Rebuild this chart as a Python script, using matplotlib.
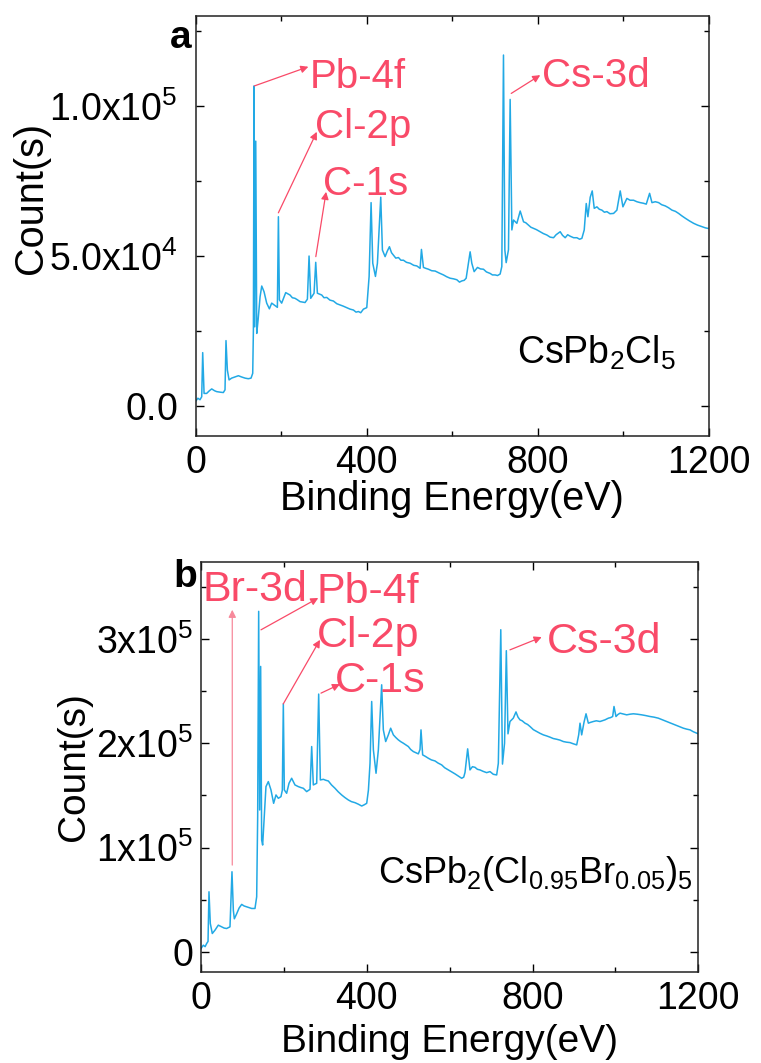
import numpy as np
import matplotlib
matplotlib.use("Agg")
import matplotlib.pyplot as plt

plt.rcParams['font.family'] = ['Liberation Sans', 'DejaVu Sans']
plt.rcParams['mathtext.fontset'] = 'custom'
plt.rcParams['mathtext.rm'] = 'Liberation Sans'
plt.rcParams['mathtext.it'] = 'Liberation Sans'
plt.rcParams['mathtext.default'] = 'regular'

# panel a: CsPb2Cl5 survey (energy in eV, counts in thousands)
a_energy = [0, 5, 10, 14, 16.3, 19.5, 25.5, 32, 37.4, 44, 49, 58, 64.6, 68.5, 70.8, 74, 78, 84, 92, 99.8,
            107, 115.4, 123, 129.4, 133.3, 134.9, 136.4, 138, 140.4, 142.7, 145.9, 150.5, 154.4, 159.8, 166,
            172.3, 177.7, 185.5, 191, 193.4, 195.7, 201, 210.5, 220.6, 226, 232.3, 238, 244, 255.7, 261.2,
            265.1, 269, 276.8, 280.7, 284.6, 294.8, 300, 306.5, 314, 322.1, 330, 337.7, 345, 353.3, 361,
            368.9, 375, 380.6, 386, 392.3, 400.1, 405.6, 410.2, 414.1, 420.4, 425, 432.8, 436.7, 443, 448,
            453.1, 458, 462.5, 468, 474.2, 480, 485.9, 493, 501.5, 510, 517.1, 524.9, 528, 532.7, 538,
            544.4, 552, 560, 570, 579.5, 587, 595.1, 603, 610.7, 617, 622.4, 628, 632.6, 638, 641.9, 645.8,
            651.3, 659.1, 666, 673.1, 680, 688.7, 694, 700.4, 706, 712.1, 716, 719.9, 723.1, 726.2, 731.6,
            735.5, 739.5, 743.4, 751.2, 759, 766.8, 772, 778.5, 784, 790.2, 797, 805.8, 813, 821.4, 829,
            837, 843, 852.6, 858, 864.3, 870, 876, 884, 891.6, 898, 903.3, 908.8, 913.5, 917.4, 922.8,
            927.5, 932.2, 938.4, 944, 950.1, 956, 961.8, 969, 977.4, 985.2, 993, 999.3, 1008.6, 1016,
            1024.2, 1032, 1039.8, 1047, 1053.9, 1061.7, 1067.2, 1075, 1082.8, 1090, 1098.4, 1106, 1114,
            1122, 1129.6, 1137, 1145.2, 1155, 1164.7, 1174, 1184.2, 1192, 1198.3]
a_counts = [1.5, 2.5, 2.0, 3.0, 17.7, 4.1, 4.1, 5.0, 5.6, 5.0, 4.7, 4.5, 4.4, 5.3, 21.7, 11.9, 8.6, 9.2, 9.6, 10.0,
            9.6, 9.2, 9.0, 9.2, 10.8, 25.2, 106.6, 26.3, 88.2, 24.1, 28.6, 36.3, 39.9, 38.0, 34.2,
            32.3, 34.2, 33.4, 32.8, 63.0, 35.3, 34.2, 37.7, 36.9, 36.0, 35.8, 35.3, 34.7, 34.4, 35.5,
            49.9, 35.8, 37.5, 47.8, 37.5, 36.9, 36.0, 36.1, 35.2, 34.9, 34.0, 33.6, 33.2, 32.7, 32.2,
            31.9, 31.2, 31.4, 31.0, 32.2, 32.7, 43.1, 67.7, 47.5, 43.1, 47.5, 69.5, 51.9, 49.7, 51.5,
            53.0, 51.0, 50.2, 49.2, 49.4, 48.5, 48.5, 47.8, 47.5, 46.8, 46.6, 45.8, 52.1, 46.1, 45.8,
            45.5, 45.0, 44.9, 44.2, 43.6, 43.0, 42.5, 42.3, 42.0, 41.2, 41.6, 41.8, 42.5, 47.5, 51.3, 47.5,
            44.7, 46.1, 45.6, 45.5, 44.6, 44.1, 43.6, 43.6, 43.4, 43.9, 46.4, 116.9, 51.9, 47.7, 52.0,
            102.1, 58.6, 61.9, 60.8, 64.9, 61.3, 61.0, 60.2, 59.5, 59.1, 58.7, 58.0, 57.4, 56.9, 56.2,
            56.0, 57.0, 58.0, 56.8, 56.0, 57.0, 56.5, 56.0, 56.0, 55.5, 55.8, 58.6, 67.4, 63.0, 69.5,
            71.6, 65.8, 66.3, 65.5, 65.2, 64.5, 64.7, 64.0, 64.1, 65.2, 71.6, 66.3, 69.1, 68.5,
            68.5, 68.0, 67.7, 67.5, 67.2, 70.8, 67.7, 68.0, 67.7, 67.0, 66.6, 66.0, 65.2,
            64.8, 64.1, 63.3, 62.5, 61.6, 60.8, 60.2, 59.7, 59.3, 59.1]

# panel b: CsPb2(Cl0.95Br0.05)5 survey
b_energy = [0, 5.6, 10, 13.7, 17, 19.3, 22.5, 27.3, 33.8, 41.8, 49.9, 56, 61.9, 70, 74.8, 78.1, 80.5, 86.1, 92,
            98.2, 104, 110.3, 116, 122.3, 130.3, 134.4, 136.8, 139.2, 141.6, 144.0, 146.4, 148.8, 152.8,
            156.8, 162.5, 168.9, 175.3, 181, 186.6, 193, 196.3, 198.7, 201.1, 206.7, 212.4, 218.8, 226.8,
            234.9, 241, 247, 255, 263.1, 267.1, 271.1, 279.2, 284.0, 288, 295.3, 301, 307.3, 315, 323.4,
            331, 339.5, 347, 355.6, 363, 371.7, 380, 387.8, 394, 399.9, 404, 407.9, 411.9, 416, 422.4,
            428, 436, 440, 445.7, 452.1, 457.7, 464.2, 470, 476.2, 482, 488.3, 494, 500.4, 506, 512.4,
            518, 524.5, 528.5, 530.9, 534.9, 541, 548.6, 556, 564.7, 572, 580.8, 588, 596.9, 604, 613,
            621, 629.1, 634, 637.1, 643.5, 649.1, 655, 661.2, 667, 673.2, 681, 689.3, 697.4, 705.4, 713.5,
            717.5, 723.4, 727.5, 732.5, 736.8, 740.8, 745.6, 749.7, 753.6, 760.1, 765, 769.8, 775, 781.9,
            788, 794, 802, 810, 818, 826.1, 834, 842.2, 850, 858.3, 866, 874.4, 882, 890.5, 898, 906.6,
            911.4, 914.6, 918.6, 924.2, 929.1, 934.7, 940, 946.7, 954, 962.8, 968, 974.9, 982.9, 988,
            993.4, 996.6, 1001.4, 1006, 1011.1, 1019, 1027.2, 1035, 1043.3, 1053, 1063.4, 1073, 1083.5,
            1093, 1103.6, 1113, 1123.7, 1133, 1143.8, 1154, 1164, 1172, 1180, 1188, 1196.1, 1200]
b_counts = [3.2, 6.4, 5.0, 8.0, 10.0, 57.6, 27.2, 17.6, 20.8, 25.6, 24.0, 22.8, 22.4, 24.0, 76.8, 39.7, 31.7, 36.5, 42.0,
            45.5, 44.0, 43.2, 42.5, 41.6, 41.6, 52.8, 129.6, 326.4, 136.0, 273.6, 107.2, 102.4, 129.6,
            158.4, 163.2, 155.2, 142.4, 150.4, 147.2, 148.8, 155.0, 237.8, 155.2, 152.0, 161.6, 166.4, 160.0,
            158.4, 157.5, 156.8, 153.6, 155.8, 196.8, 160.0, 161.6, 247.1, 164.8, 165.4, 164.5, 163.8, 160.0, 156.8,
            153.5, 150.4, 148.0, 145.6, 144.0, 143.0, 141.5, 139.8, 141.0, 142.4, 155.0, 180.8, 240.0, 193.6, 171.2,
            193.6, 256.0, 212.8, 201.6, 208.0, 214.4, 208.0, 205.5, 203.2, 201.5, 200.0, 198.5, 196.8, 194.0, 192.0,
            191.0, 189.8, 194.0, 212.8, 188.8, 187.5, 185.6, 184.0, 183.0, 181.0, 179.2, 176.5, 174.4, 172.8, 170.6,
            168.5, 166.4, 167.5, 172.0, 194.6, 174.4, 177.5, 176.9, 175.0, 174.4, 173.0, 171.8, 172.8, 170.2, 169.6,
            180.8, 308.8, 180.0, 200.0, 288.7, 209.0, 220.8, 222.4, 224.0, 230.0, 225.0, 222.4, 221.5, 219.2,
            218.0, 216.0, 213.0, 211.2, 209.5, 208.0, 207.0, 205.8, 204.5, 203.8, 203.0, 201.6, 201.0, 200.6, 199.5, 198.4,
            208.0, 219.2, 208.0, 220.0, 228.2, 219.2, 220.0, 220.8, 221.5, 220.8, 221.5, 222.4, 224.0, 224.5,
            225.6, 235.2, 225.6, 227.5, 228.8, 228.0, 227.2, 227.8, 228.2, 227.8, 227.2, 226.5, 225.6,
            225.0, 224.0, 222.5, 220.8, 219.2, 217.6, 216.0, 214.4, 213.5, 212.8, 211.0, 209.6, 209.0]

x_ticks = [0, 400, 800, 1200]
a_yticks = [0, 50000, 100000]
a_yticklabels = [r'$0.0$', r'$5.0x10^4$', r'$1.0x10^5$']
b_yticks = [0, 100000, 200000, 300000]
b_yticklabels = [r'$0$', r'$1x10^5$', r'$2x10^5$', r'$3x10^5$']

# peak labels: (text, text x, text y, arrow tail x, tail y, arrow head x, head y)
a_peaks = [('Pb-4f', 267.6, 105.9, 137.2, 106.6, 263.5, 113.0),
           ('Cl-2p', 279.2, 89.1, 193.3, 64.3, 283.2, 91.3),
           ('C-1s', 297.3, 70.2, 280.9, 49.7, 305.0, 71.3),
           ('Cs-3d', 809.9, 106.3, 738.0, 104.1, 805.9, 110.2)]
b_peaks = [('Br-3d', 4.8, 335.9, 75.5, 83.2, 75.5, 327.9),
           ('Pb-4f', 279.2, 334.4, 144.8, 308.7, 283.0, 339.2),
           ('Cl-2p', 279.2, 292.7, 198.6, 237.7, 287.2, 299.1),
           ('C-1s', 323.3, 249.5, 289.6, 248.0, 335.4, 256.6),
           ('Cs-3d', 834.2, 286.4, 745.6, 289.5, 822.1, 301.7)]

blue = '#22A9E5'
red = '#F94A68'

fig = plt.figure(figsize=(7.61, 10.63), dpi=100)
ax1 = fig.add_axes([0.2572, 0.5901, 0.6741, 0.3951])
ax2 = fig.add_axes([0.2641, 0.0859, 0.6535, 0.3857])


def style_axis(ax, yticks, ylabels, ylim, ypad, fs):
    ax.set_xlim(0, 1200)
    ax.set_ylim(*ylim)
    ax.set_xticks(x_ticks)
    ax.set_xticks([200, 600, 1000], minor=True)
    ax.set_yticks(yticks)
    ax.set_yticklabels(ylabels)
    step = yticks[1] - yticks[0]
    ax.set_yticks([t + step / 2 for t in yticks], minor=True)
    ax.tick_params(which='both', direction='in', top=True, right=True, width=1.0)
    ax.tick_params(which='major', length=6)
    ax.tick_params(which='minor', length=3.5)
    ax.tick_params(axis='x', labelsize=fs, pad=7)
    ax.tick_params(axis='y', labelsize=fs, pad=ypad)
    for s in ax.spines.values():
        s.set_linewidth(1.1)
        s.set_color('#222222')


ax1.plot(a_energy, np.array(a_counts) * 1000, color=blue, lw=1.1)
style_axis(ax1, a_yticks, a_yticklabels, (-10000, 130000), 13, 27)
ax1.set_xlabel('Binding Energy(eV)', fontsize=28.5)
ax1.set_ylabel('Count(s)', fontsize=28.5)
ax1.xaxis.set_label_coords(0.5, -0.106)
ax1.yaxis.set_label_coords(-0.285, 0.565)
for txt, tx, ty, x0, y0, x1, y1 in a_peaks:
    ax1.annotate('', xy=(x1, y1 * 1000), xytext=(x0, y0 * 1000),
                 arrowprops=dict(arrowstyle='-|>', color=red, lw=0.9, mutation_scale=11,
                                 shrinkA=0, shrinkB=0))
    ax1.text(tx, ty * 1000, txt, color=red, fontsize=29, ha='left', va='baseline')
ax1.text(751, 14100, r'CsPb$_2$Cl$_5$', fontsize=27, ha='left', va='baseline')

ax2.plot(b_energy, np.array(b_counts) * 1000, color=blue, lw=1.1)
style_axis(ax2, b_yticks, b_yticklabels, (-19000, 374000), 5.5, 27)
ax2.set_xlabel('Binding Energy(eV)', fontsize=28)
ax2.set_ylabel('Count(s)', fontsize=28)
ax2.xaxis.set_label_coords(0.5, -0.128)
ax2.yaxis.set_label_coords(-0.219, 0.5)
for txt, tx, ty, x0, y0, x1, y1 in b_peaks:
    col = '#F7899B' if txt == 'Br-3d' else red
    ax2.annotate('', xy=(x1, y1 * 1000), xytext=(x0, y0 * 1000),
                 arrowprops=dict(arrowstyle='-|>', color=col, lw=0.9, mutation_scale=11,
                                 shrinkA=0, shrinkB=0))
    ax2.text(tx, ty * 1000, txt, color=red, fontsize=31, ha='left', va='baseline')
ax2.text(427.8, 65600, r'CsPb$_2$(Cl$_{0.95}$Br$_{0.05}$)$_5$', fontsize=26, ha='left', va='baseline')

fig.text(170 / 761, 1 - 48 / 1063, 'a', fontsize=28, fontweight='bold', ha='left', va='baseline')
fig.text(173 / 761, 1 - 587 / 1063, 'b', fontsize=28, fontweight='bold', ha='left', va='baseline')

fig.savefig('out.png', dpi=100)
